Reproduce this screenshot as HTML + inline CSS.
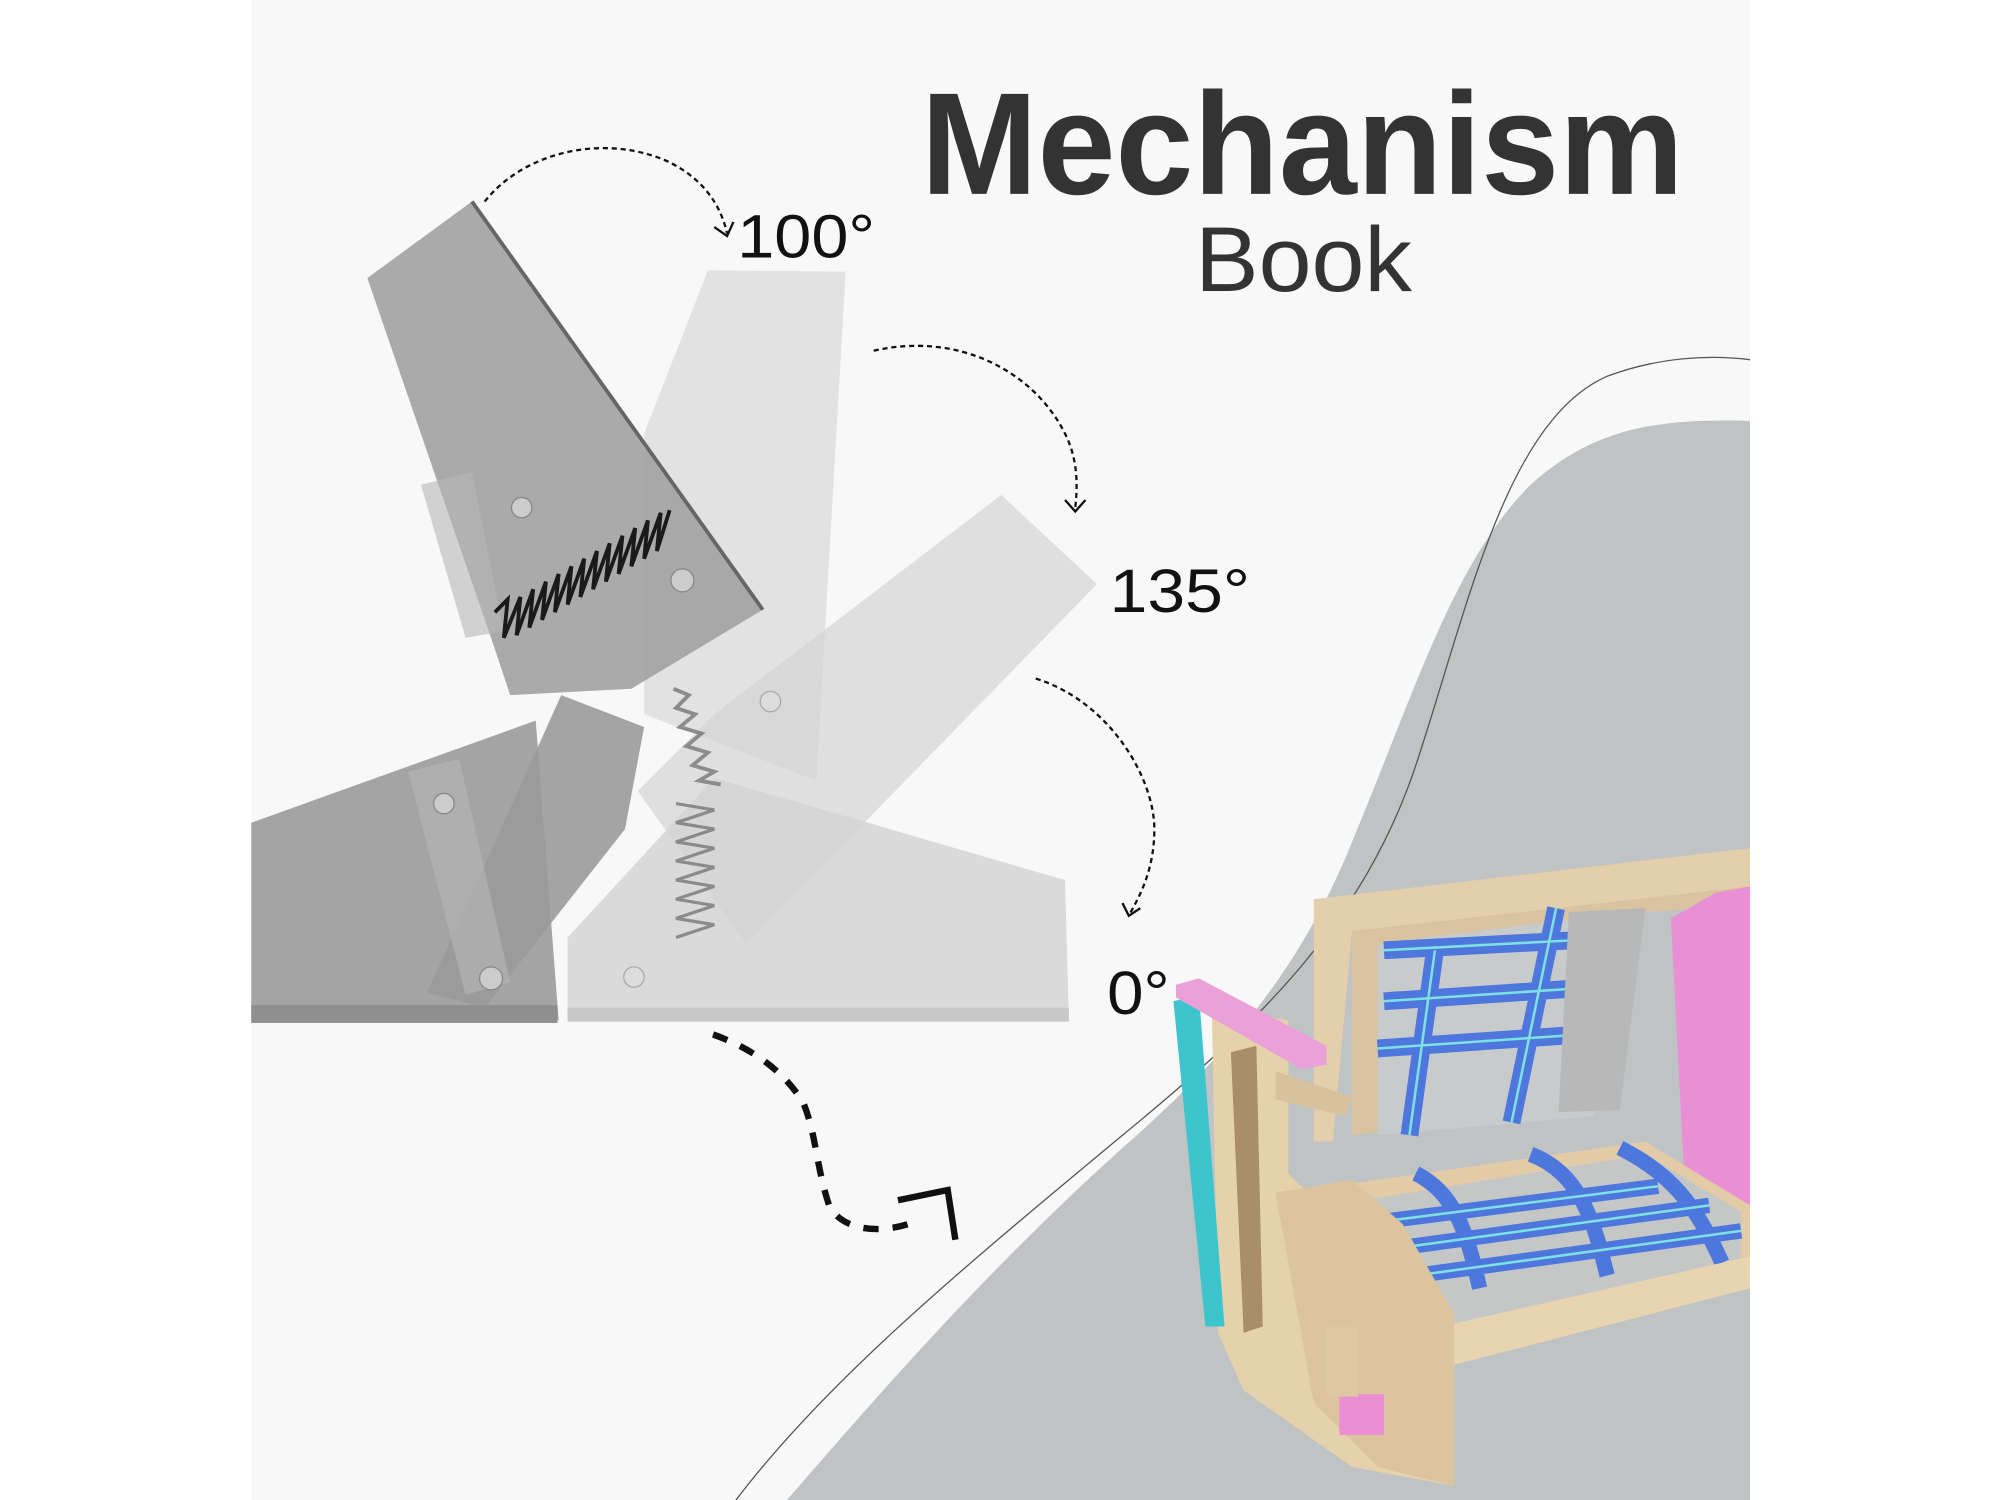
<!DOCTYPE html>
<html><head><meta charset="utf-8"><style>html,body{margin:0;padding:0;background:#fff}svg{display:block}</style></head>
<body>
<svg width="2000" height="1500" viewBox="0 0 1568 1176" preserveAspectRatio="none" xmlns="http://www.w3.org/2000/svg">
<rect x="0" y="0" width="1568" height="1176" fill="#ffffff"/>
<rect x="197" y="0" width="1175" height="1176" fill="#f8f8f8"/>
<path d="M617,1176 C700,1080 780,990 880,900 C960,830 1020,760 1060,660 C1110,540 1140,440 1200,380 C1250,335 1300,328 1372,330 L1372,1176 Z" fill="#c0c3c3"/>
<path d="M577,1176 C650,1080 760,990 880,890 C990,800 1070,720 1110,600 C1150,480 1180,330 1260,295 C1300,280 1340,278 1372,282" fill="none" stroke="#555" stroke-width="1"/>

<text x="722" y="152" font-family="Liberation Sans, sans-serif" font-weight="bold" font-size="114" fill="#333" textLength="598" lengthAdjust="spacingAndGlyphs">Mechanism</text>
<text x="937" y="228" font-family="Liberation Sans, sans-serif" font-size="72" fill="#333" textLength="170" lengthAdjust="spacingAndGlyphs">Book</text>
<text x="578" y="202" font-family="Liberation Sans, sans-serif" font-size="48" fill="#111" textLength="108" lengthAdjust="spacingAndGlyphs">100°</text>
<text x="870" y="480" font-family="Liberation Sans, sans-serif" font-size="48" fill="#111" textLength="110" lengthAdjust="spacingAndGlyphs">135°</text>
<text x="868" y="795" font-family="Liberation Sans, sans-serif" font-size="48" fill="#111" textLength="49" lengthAdjust="spacingAndGlyphs">0°</text>

<polygon points="197,645 420,565 438,800 197,800" fill="#a4a4a4"/>
<polygon points="445,735 560,610 835,690 838,800 445,800" fill="#d2d2d2" opacity="0.8"/>
<polygon points="555,212 663,213 640,612 505,560 505,340" fill="#d9d9d9" opacity="0.7"/>
<polygon points="785,388 860,458 585,740 500,620 560,560" fill="#d4d4d4" opacity="0.7"/>
<polygon points="288,218 370,158 598,478 495,540 400,545 385,500" fill="#a3a3a3" opacity="0.92"/>
<line x1="370" y1="158" x2="598" y2="478" stroke="#666" stroke-width="3"/>
<polygon points="440,545 505,570 490,650 380,790 335,778" fill="#9a9a9a" opacity="0.9"/>
<polygon points="330,380 370,370 395,495 365,500" fill="#b8b8b8" opacity="0.6"/>
<polygon points="320,605 360,595 400,770 365,780" fill="#b8b8b8" opacity="0.6"/>
<rect x="197" y="788" width="240" height="14" fill="#8f8f8f"/>
<rect x="445" y="790" width="393" height="11" fill="#c8c8c8"/>
<circle cx="409" cy="398" r="8" fill="#ccc" stroke="#888"/>
<circle cx="535" cy="455" r="9" fill="#ccc" stroke="#888"/>
<circle cx="348" cy="630" r="8" fill="#ccc" stroke="#888"/>
<circle cx="385" cy="767" r="9" fill="#ccc" stroke="#888"/>
<circle cx="497" cy="766" r="8" fill="#ddd" stroke="#aaa"/>
<circle cx="604" cy="550" r="8" fill="#ddd" stroke="#aaa"/>
<polyline points="388,480 398,470 395,500 408,468 405,498 418,462 415,492 428,456 425,486 438,450 435,480 448,444 445,474 458,438 455,468 468,432 465,462 478,426 475,456 488,420 485,450 498,414 495,444 508,408 505,438 518,402 515,432 525,400" fill="none" stroke="#1a1a1a" stroke-width="3"/>
<polyline points="528,540 540,545 530,555 545,560 533,570 550,575 538,585 555,590 543,600 560,605 548,612 565,615" fill="none" stroke="#777" stroke-width="3" opacity="0.8"/>
<polyline points="530,630 560,635 530,645 560,650 530,660 560,665 530,675 560,680 530,690 560,695 530,705 560,710 530,720 560,725 530,735" fill="none" stroke="#777" stroke-width="2.5" opacity="0.8"/>

<g fill="none" stroke="#111" stroke-width="1.8" stroke-dasharray="4 3">
<path d="M380,158 C410,120 470,105 520,125 C550,138 565,160 570,183"/>
<path d="M685,275 C750,260 810,290 835,340 C845,360 845,380 843,398"/>
<path d="M812,532 C870,550 905,610 905,650 C905,680 895,700 886,716"/>
</g>
<g fill="none" stroke="#111" stroke-width="1.8">
<polyline points="560,178 570,185 575,174"/>
<polyline points="835,392 843,401 851,392"/>
<polyline points="880,708 885,718 894,712"/>
</g>
<path d="M559,811 C590,822 615,840 630,865 C640,890 640,915 650,945 C660,965 690,968 717,958" fill="none" stroke="#111" stroke-width="5" stroke-dasharray="12 11"/>
<polyline points="704,941 743,933 749,972" fill="none" stroke="#111" stroke-width="5"/>

<polygon points="1030,705 1372,665 1372,695 1060,730 1045,895 1030,895" fill="#e4cfac"/>
<polygon points="1060,730 1372,695 1372,710 1290,715 1230,870 1060,890" fill="#d9c3a0"/>
<polygon points="1080,740 1275,715 1250,875 1080,890" fill="#c8cbcb"/>
<g stroke="#4e77de" stroke-width="14" fill="none">
<line x1="1085" y1="745" x2="1275" y2="735"/>
<line x1="1085" y1="785" x2="1265" y2="773"/>
<line x1="1080" y1="822" x2="1255" y2="810"/>
<line x1="1125" y1="745" x2="1105" y2="890"/>
<line x1="1220" y1="712" x2="1185" y2="880"/>
</g>
<g stroke="#7fe0e0" stroke-width="2" fill="none">
<line x1="1085" y1="745" x2="1275" y2="735"/>
<line x1="1085" y1="785" x2="1265" y2="773"/>
<line x1="1080" y1="822" x2="1255" y2="810"/>
<line x1="1125" y1="745" x2="1105" y2="890"/>
<line x1="1220" y1="712" x2="1185" y2="880"/>
</g>
<polygon points="1230,715 1290,712 1270,870 1222,872" fill="#b8b8b8"/>
<polygon points="1345,700 1372,695 1372,945 1320,915 1310,720" fill="#e98fd6"/>
<polygon points="1010,935 1290,895 1372,945 1372,1010 1130,1070 1010,965" fill="#e2cba6"/>
<polygon points="1045,945 1290,905 1365,950 1365,995 1140,1050 1060,975" fill="#c5c7c6"/>
<g stroke="#4e77de" stroke-width="12" fill="none">
<line x1="1065" y1="960" x2="1300" y2="930"/>
<line x1="1085" y1="980" x2="1340" y2="945"/>
<line x1="1110" y1="1000" x2="1365" y2="965"/>
<path d="M1110,920 C1140,935 1150,965 1160,1010"/>
<path d="M1200,905 C1240,920 1250,960 1260,1000"/>
<path d="M1270,900 C1310,920 1330,945 1350,990"/>
</g>
<g stroke="#7fe0e0" stroke-width="2" fill="none">
<line x1="1065" y1="960" x2="1300" y2="930"/>
<line x1="1085" y1="980" x2="1340" y2="945"/>
<line x1="1110" y1="1000" x2="1365" y2="965"/>
</g>
<polygon points="1130,1040 1372,985 1372,1010 1140,1070" fill="#e8d4b0"/>
<polygon points="950,790 1010,800 1010,920 1100,1010 1140,1030 1140,1165 1060,1150 975,1090 955,1045" fill="#e6d1ad"/>
<polygon points="1000,935 1060,925 1100,960 1140,1030 1140,1165 1080,1150 1030,1100" fill="#dcc59e"/>
<polygon points="965,825 985,820 990,1040 975,1045" fill="#a88f6a"/>
<polygon points="1000,840 1060,860 1055,875 1000,862" fill="#d8c29d"/>
<polygon points="920,785 940,780 960,1040 945,1040" fill="#3dc4cc"/>
<polygon points="922,772 940,767 1040,820 1040,835 1020,838 922,782" fill="#eaa0d8"/>
<rect x="1050" y="1093" width="35" height="32" fill="#eb8fd4"/>
<rect x="1040" y="1040" width="25" height="55" fill="#dec8a3"/>
</svg>
</body></html>
